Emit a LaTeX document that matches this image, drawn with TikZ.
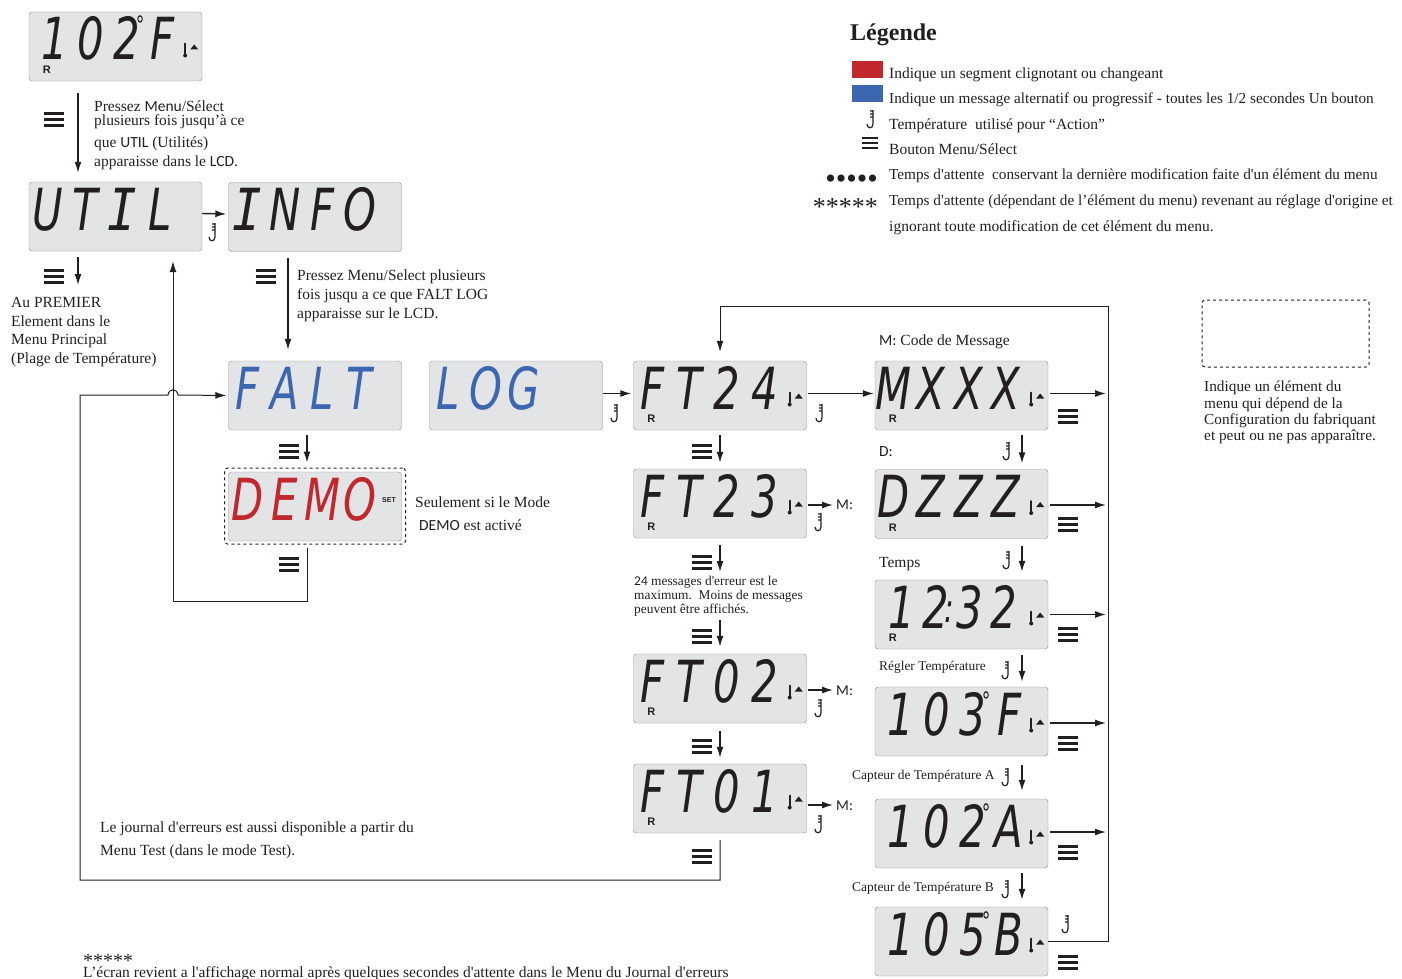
\documentclass[tikz,border=0pt]{standalone}
\usepackage{fontspec}
\setmainfont{Liberation Serif}[Ligatures=TeXOff]
\setsansfont{Liberation Sans}
\newfontfamily\lcdfont{DejaVu Sans}[FakeStretch=0.72]
\newfontfamily\lcdmono{DejaVu Sans Mono}[FakeStretch=0.85]
\newfontfamily\condfont{Carlito}
\definecolor{LcdGray}{HTML}{E3E4E6}
\definecolor{LcdEdge}{HTML}{8E8F90}
\definecolor{LcdInk}{HTML}{231F20}
\definecolor{LcdRed}{HTML}{C1272D}
\definecolor{LcdBlue}{HTML}{3D66B0}
\usetikzlibrary{arrows.meta}
% one cell per character of the readout
\newcommand{\lcdchars}[3]{\makebox[173pt][l]{\hspace*{#1pt}\raisebox{-13.5pt}[0pt][0pt]{\foreach \ch in {#3}{\makebox[#2pt]{\ch}}}}}
\newcommand{\lcddeg}{\makebox[0pt]{\raisebox{26pt}{\fontsize{24}{24}\selectfont °}}}
\newcommand{\lcdcolon}{\makebox[0pt]{\raisebox{6pt}{\fontsize{40}{40}\selectfont :}}}
\newcommand{\lcdI}{{\lcdmono I}}
\newcommand{\lcdthermo}[1]{%
  \draw [LcdInk, line width=1.6pt, line cap=round] ([shift={(-17,-3)}]#1.east) -- ([shift={(-17,7)}]#1.east);
  \fill [LcdInk] ([shift={(-17,9)}]#1.east) circle (2pt);
  \fill [LcdInk] ([shift={(-12,3)}]#1.east) -- ([shift={(-4,3)}]#1.east) -- ([shift={(-8,-2)}]#1.east) -- cycle;
}
\newcommand{\lcdr}[1]{\node (#1r) [rmark] at ([shift={(18,-11)}]#1.south west) {R};}
\begin{document}
\begin{tikzpicture}[
        x=1pt, y=-1pt,
        lcd/.style={draw=LcdEdge, fill=LcdGray, rounded corners=3pt, minimum width=173pt, minimum height=69pt, inner sep=0pt, text=LcdInk, font=\lcdfont\itshape\fontsize{58}{58}\selectfont},
        rmark/.style={inner sep=0pt, text=LcdInk, font=\sffamily\bfseries\fontsize{11}{11}\selectfont},
        note/.style={anchor=north west, inner sep=0pt, yshift=-3pt, align=left, text=LcdInk, font=\fontsize{15.5}{18.7}\selectfont},
        leglong/.style={note, font=\fontsize{15.25}{18.7}\selectfont},
        small/.style={note, font=\fontsize{13.4}{14.5}\selectfont},
        tipped/.style={-{Latex[length=11pt,width=7pt]}},
        arrow/.style={tipped, line width=1.4pt, color=LcdInk},
        bus/.style={line width=1pt, color=LcdInk},
        menubtn/.pic={\draw [LcdInk, line width=3pt] (-10,-6) -- (10,-6) (-10,0) -- (10,0) (-10,6) -- (10,6);},
        legbtn/.pic={\draw [LcdInk, line width=2.2pt] (-8,-5) -- (8,-5) (-8,0) -- (8,0) (-8,5) -- (8,5);},
        tempbtn/.pic={\draw [LcdInk, line width=1.2pt] (0,-9) -- (0,5) .. controls (0,10) and (-6,10) .. (-6,5) (0,-8) -- (-3,-8) (0,-5) -- (-3,-5) (0,-2) -- (-3,-2);}
      ]
        \useasboundingbox (0,0) rectangle (1402,979);

        % first column
        \node (top) [lcd] at (115.5,46.5) {\lcdchars{8}{36}{1,0,2\lcddeg,F}};
        \node (util) [lcd] at (115.5,216.5) {\lcdchars{0}{37.5}{U,T,\lcdI,L}};
        \node (info) [lcd] at (315,217) {\lcdchars{0}{37.5}{\lcdI,N,F,O}};
        \node (falt) [lcd] at (315,395.5) {\lcdchars{0}{37.5}{\textcolor{LcdBlue}{F},\textcolor{LcdBlue}{A},\textcolor{LcdBlue}{L},\textcolor{LcdBlue}{T}}};
        \node (log) [lcd] at (516,395.5) {\lcdchars{0}{37.5}{\textcolor{LcdBlue}{L},\textcolor{LcdBlue}{O},\textcolor{LcdBlue}{G}}};
        \node (demo) [lcd] at (315,506.5) {\lcdchars{0}{37.5}{\textcolor{LcdRed}{D},\textcolor{LcdRed}{E},\textcolor{LcdRed}{M},\textcolor{LcdRed}{O}}};
        \node (demoframe) [draw=LcdInk, dashed, rounded corners=3pt, line width=1pt, minimum width=181pt, minimum height=76pt] at (315,506) {};
        \node (demoset) [inner sep=0pt, text=LcdInk, font=\sffamily\bfseries\fontsize{7}{7}\selectfont] at (389,500.5) {SET};

        % fault codes
        \node (ftA) [lcd] at (720,395.5) {\lcdchars{0}{37.5}{F,T,2,4}};
        \node (ftB) [lcd] at (720,503.5) {\lcdchars{0}{37.5}{F,T,2,3}};
        \node (ftC) [lcd] at (720,688.5) {\lcdchars{0}{37.5}{F,T,0,2}};
        \node (ftD) [lcd] at (720,798.5) {\lcdchars{0}{37.5}{F,T,0,1}};

        % right column
        \node (msg) [lcd] at (961.5,395.5) {\lcdchars{0}{37.5}{M,X,X,X}};
        \node (date) [lcd] at (961.5,504) {\lcdchars{0}{37.5}{D,Z,Z,Z}};
        \node (clock) [lcd] at (961.5,614.5) {\lcdchars{10}{34}{1,2\lcdcolon,3,2}};
        \node (setp) [lcd] at (961.5,721.5) {\lcdchars{8}{36}{1,0,3\lcddeg,F}};
        \node (tempa) [lcd] at (961.5,833.5) {\lcdchars{8}{36}{1,0,2\lcddeg,A}};
        \node (tempb) [lcd] at (961.5,941.5) {\lcdchars{8}{36}{1,0,5\lcddeg,B}};

        \lcdthermo{top} \lcdthermo{ftA} \lcdthermo{ftB} \lcdthermo{ftC} \lcdthermo{ftD}
        \lcdthermo{msg} \lcdthermo{date} \lcdthermo{clock} \lcdthermo{setp} \lcdthermo{tempa} \lcdthermo{tempb}
        \lcdr{top} \lcdr{ftA} \lcdr{ftB} \lcdr{ftC} \lcdr{ftD} \lcdr{msg} \lcdr{date} \lcdr{clock}

        % optional element frame
        \node (optbox) [draw=LcdInk, dashed, rounded corners=3pt, line width=1pt, minimum width=167pt, minimum height=67pt] at (1285.5,333.5) {};

        % texts
        \node (hintutil) [note] at (94,98) {Pressez {\condfont Menu}/Sélect\\[-4.7pt]plusieurs fois jusqu’à ce\\[3.3pt]que {\condfont UTIL} (Utilités)\\[.3pt]apparaisse dans le {\condfont LCD}.};
        \node (hintfalt) [note] at (297,267) {Pressez Menu/Select plusieurs\\fois jusqu a ce que FALT LOG\\apparaisse sur le LCD.};
        \node (first) [note] at (11,294) {Au PREMIER\\Element dans le\\Menu Principal\\(Plage de Température)};
        \node (demonote) [note] at (415,494) {Seulement si le Mode\\[4.3pt]\hspace*{4pt}{\condfont DEMO} est activé};
        \node (maxnote) [small] at (634,573) {{\condfont 24} messages d'erreur est le\\[-1pt]maximum.\ \ Moins de messages\\peuvent être affichés.};
        \node (testnote) [note] at (100,819) {Le journal d'erreurs est aussi disponible a partir du\\[4.3pt]Menu Test (dans le mode Test).};
        \node (stars) [note, font=\fontsize{20}{20}\selectfont] at (83,951) {*****};
        \node (backnote) [note] at (83,963) {L’écran revient a l'affichage normal après quelques secondes d'attente dans le Menu du Journal d'erreurs};
        \node (optnote) [note, font=\fontsize{15.3}{16.3}\selectfont] at (1204,378) {Indique un élément du\\menu qui dépend de la\\Configuration du fabriquant\\et peut ou ne pas apparaître.};
        \node (msglabel) [note] at (879,332) {{\condfont M:} Code de Message};
        \node (datelabel) [note] at (879,443) {{\condfont D:}};
        \node (clocklabel) [note] at (879,554) {Temps};
        \node (setlabel) [small] at (879,658) {Régler Température};
        \node (alabel) [small] at (852,767) {Capteur de Température A};
        \node (blabel) [small] at (852,879) {Capteur de Température B};
        \node (mb) [note, font=\condfont\fontsize{15}{18}\selectfont] at (836,497) {M:};
        \node (mc) [note, font=\condfont\fontsize{15}{18}\selectfont] at (836,683) {M:};
        \node (md) [note, font=\condfont\fontsize{15}{18}\selectfont] at (836,798) {M:};

        % legend
        \node (legtitle) [note, font=\bfseries\fontsize{24}{24}\selectfont] at (850,21) {Légende};
        \node (legred) [fill=LcdRed, minimum width=31pt, minimum height=17pt, inner sep=0pt] at (867.5,69.5) {};
        \node (legblue) [fill=LcdBlue, minimum width=31pt, minimum height=17pt, inner sep=0pt] at (867.5,93.5) {};
        \node (legdots) [note, anchor=north east, font=\fontsize{30}{30}\selectfont] at (878,171.5) {•••••};
        \node (legstars) [note, anchor=north east, font=\fontsize{26}{26}\selectfont] at (878,195) {*****};
        \node (legone) [note] at (889,65) {Indique un segment clignotant ou changeant};
        \node (legtwo) [leglong] at (889,90) {Indique un message alternatif ou progressif - toutes les 1/2 secondes Un bouton};
        \node (legthree) [note] at (889,116) {Température\ \ utilisé pour “Action”};
        \node (legfour) [note] at (889,141) {Bouton Menu/Sélect};
        \node (legfive) [leglong] at (889,166) {Temps d'attente\ \ conservant la dernière modification faite d'un élément du menu};
        \node (legsix) [leglong] at (889,192) {Temps d'attente (dépendant de l’élément du menu) revenant au réglage d'origine et};
        \node (legseven) [note] at (889,217) {ignorant toute modification de cet élément du menu.};
        \pic at (873,119) {tempbtn};
        \pic at (870,143) {legbtn};

        % menu and temperature buttons
        \pic at (54,120) {menubtn};
        \pic at (54,276) {menubtn};
        \pic at (266,276) {menubtn};
        \pic at (289,451) {menubtn};
        \pic at (289,564) {menubtn};
        \pic at (702,451) {menubtn};
        \pic at (702,562) {menubtn};
        \pic at (702,636) {menubtn};
        \pic at (702,746) {menubtn};
        \pic at (702,856) {menubtn};
        \pic at (1068,416) {menubtn};
        \pic at (1068,524) {menubtn};
        \pic at (1068,634) {menubtn};
        \pic at (1068,743) {menubtn};
        \pic at (1068,852) {menubtn};
        \pic at (1068,962) {menubtn};
        \pic at (215,232) {tempbtn};
        \pic at (617,413) {tempbtn};
        \pic at (822,413) {tempbtn};
        \pic at (821,522) {tempbtn};
        \pic at (821,708) {tempbtn};
        \pic at (821,824) {tempbtn};
        \pic at (1009,451) {tempbtn};
        \pic at (1009,560) {tempbtn};
        \pic at (1008,670) {tempbtn};
        \pic at (1008,777) {tempbtn};
        \pic at (1008,889) {tempbtn};
        \pic at (1068,924) {tempbtn};

        % connectors
        \draw [arrow] ([shift={(-37.5,12)}]top.south) -- ([shift={(-37.5,-9)}]util.north);
        \draw [arrow] ([shift={(0,-3)}]util.east) -- ([shift={(-2,-3)}]info.west);
        \draw [arrow] ([shift={(-37.5,6)}]util.south) -- ([shift={(67,-12)}]first.north west);
        \draw [arrow] ([shift={(-27,6)}]info.south) -- ([shift={(-27,-11)}]falt.north);
        \draw [arrow] ([shift={(-8,5)}]falt.south) -- ([shift={(-8,-5)}]demoframe.north);
        \draw [arrow] ([shift={(0,-2)}]log.east) -- ([shift={(-2,-2)}]ftA.west);
        \draw [arrow] ([shift={(1,-2)}]ftA.east) -- ([shift={(-1,-2)}]msg.west);
        \draw [arrow] ([shift={(0,5)}]ftA.south) -- ([shift={(0,-6)}]ftB.north);
        \draw [arrow] ([shift={(0,7)}]ftB.south) -- ([shift={(86,-4)}]maxnote.north west);
        \draw [arrow] ([shift={(86,44)}]maxnote.north west) -- ([shift={(0,-7)}]ftC.north);
        \draw [arrow] ([shift={(0,8)}]ftC.south) -- ([shift={(0,-6)}]ftD.north);
        \draw [arrow] ([shift={(1,1.5)}]ftB.east) -- ([shift={(-3,5)}]mb.north west);
        \draw [arrow] ([shift={(1,1.5)}]ftC.east) -- ([shift={(-3,4)}]mc.north west);
        \draw [arrow] ([shift={(1,6.5)}]ftD.east) -- ([shift={(-3,4)}]md.north west);
        \draw [arrow] ([shift={(60.5,5)}]msg.south) -- ([shift={(60.5,-6)}]date.north);
        \draw [arrow] ([shift={(60.5,7)}]date.south) -- ([shift={(60.5,-8)}]clock.north);
        \draw [arrow] ([shift={(60.5,6)}]clock.south) -- ([shift={(60.5,-5)}]setp.north);
        \draw [arrow] ([shift={(60.5,9)}]setp.south) -- ([shift={(60.5,-8)}]tempa.north);
        \draw [arrow] ([shift={(60.5,5)}]tempa.south) -- ([shift={(60.5,-7)}]tempb.north);

        % long return lines
        \coordinate (busbottom) at (1108,941.5);
        \coordinate (bustop) at (1108,306);
        \coordinate (demoturn) at (173,601);
        \coordinate (testturn) at (80,880);
        \draw [bus, tipped] (tempb.east) -- (busbottom) -- (bustop) -| ([shift={(0,-9)}]ftA.north);
        \draw [arrow] ([shift={(2,-2)}]msg.east) -- ([shift={(-2,-2)}]msg.east -| bustop);
        \draw [arrow] ([shift={(2,1)}]date.east) -- ([shift={(-2,1)}]date.east -| bustop);
        \draw [arrow] ([shift={(2,0)}]clock.east) -- ([shift={(-2,0)}]clock.east -| bustop);
        \draw [arrow] ([shift={(2,1.5)}]setp.east) -- ([shift={(-2,1.5)}]setp.east -| bustop);
        \draw [arrow] ([shift={(2,-1.5)}]tempa.east) -- ([shift={(-2,-1.5)}]tempa.east -| bustop);
        \draw [bus, tipped] ([shift={(-8,3)}]demoframe.south) |- (demoturn) -- ([shift={(57.5,10)}]util.south);
        \draw [bus, tipped] ([shift={(0,7)}]ftD.south) |- (testturn) |- (168,395) .. controls (169,388) and (177,388) .. (178,395) -- ([shift={(-2,0)}]falt.west);
      \end{tikzpicture}
\end{document}
